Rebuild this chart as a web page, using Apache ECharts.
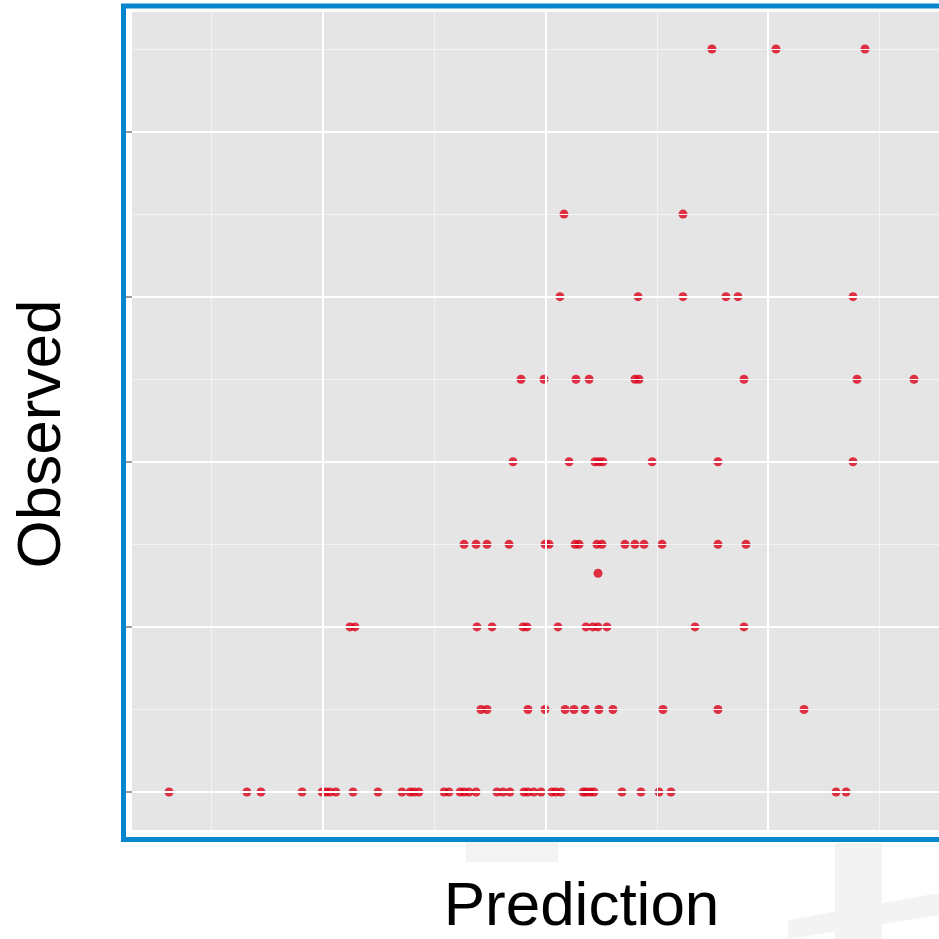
<!DOCTYPE html>
<html>
<head>
<meta charset="utf-8">
<style>html,body{margin:0;padding:0;background:#fff;}#c{width:939px;height:939px;}</style>
<script src="https://cdn.jsdelivr.net/npm/echarts@6/dist/echarts.min.js"></script>
</head>
<body>
<div id="c"></div>
<script>
// Observed levels and the Prediction values of the points on each level
const obs0 = [0.308,0.658,0.721,0.906,0.996,1.013,1.031,1.058,1.135,1.247,1.355,1.391,1.409,1.431,1.544,1.566,1.616,1.634,1.656,1.688,1.782,1.809,1.840,1.903,1.921,1.948,1.980,2.029,2.047,2.070,2.169,2.182,2.200,2.218,2.344,2.429,2.510,2.564,3.306,3.351];
const obs1 = [1.710,1.737,1.921,1.998,2.088,2.128,2.178,2.240,2.303,2.528,2.775,3.162];
const obs2 = [1.121,1.144,1.692,1.760,1.899,1.917,2.056,2.182,2.213,2.236,2.276,2.672,2.892];
const obs265 = [2.236];
const obs3 = [1.634,1.688,1.737,1.836,1.998,2.016,2.133,2.151,2.231,2.254,2.357,2.402,2.443,2.524,2.775,2.901];
const obs4 = [1.854,2.106,2.222,2.240,2.258,2.479,2.775,3.382];
const obs5 = [1.890,1.993,2.137,2.196,2.402,2.420,2.892,3.400,3.656];
const obs6 = [2.065,2.416,2.618,2.811,2.865,3.382];
const obs7 = [2.083,2.618];
const obs9 = [2.748,3.036,3.436];
const levels = [[0,obs0],[1,obs1],[2,obs2],[2.65,obs265],[3,obs3],[4,obs4],[5,obs5],[6,obs6],[7,obs7],[9,obs9]];

const xMajor = [1,2,3];
const xMinor = [0.5,1.5,2.5,3.5];
const yMajor = [0,2,4,6,8];
const yMinor = [1,3,5,7,9];

const points = [];
levels.forEach(([y, xs]) => xs.forEach(x => points.push([x, y])));

const gridLines = [];
xMinor.forEach(v => gridLines.push({xAxis: v, lineStyle: {color: '#F3F3F3', width: 1, type: 'solid'}}));
yMinor.forEach(v => gridLines.push({yAxis: v, lineStyle: {color: '#F3F3F3', width: 1.2, type: 'solid'}}));
xMajor.forEach(v => gridLines.push({xAxis: v, lineStyle: {color: '#FFFFFF', width: 2, type: 'solid'}}));
yMajor.forEach(v => gridLines.push({yAxis: v, lineStyle: {color: '#FFFFFF', width: 2, type: 'solid'}}));

const chart = echarts.init(document.getElementById('c'), null, {renderer: 'canvas'});
chart.setOption({
  animation: false,
  backgroundColor: '#FFFFFF',
  graphic: [
    {type: 'rect', z: -10, silent: true, shape: {x: 466, y: 842, width: 92, height: 20}, style: {fill: '#F4F4F4'}},
    {type: 'rect', z: -10, silent: true, shape: {x: 835, y: 843, width: 47, height: 96}, style: {fill: '#F3F3F3'}},
    {type: 'polygon', z: -10, silent: true, shape: {points: [[788,920],[939,893],[939,915],[788,939]]}, style: {fill: '#F3F3F3'}},
    {type: 'rect', z: -5, silent: true, shape: {x: 123.5, y: 6, width: 900, height: 833.5}, style: {fill: 'none', stroke: '#0686CE', lineWidth: 5}}
  ],
  grid: {
    left: 132, top: 12, right: 0, bottom: 109,
    outerBoundsMode: 'none', containLabel: false,
    show: true, backgroundColor: '#E5E5E5', borderWidth: 0
  },
  xAxis: {
    type: 'value', min: 0.1416, max: 3.7685,
    name: 'Prediction', nameLocation: 'middle', nameGap: 47,
    nameTextStyle: {fontFamily: 'Liberation Sans', fontSize: 62, color: '#000', padding: [0, 0, 0, 92]},
    axisLine: {show: false},
    axisTick: {show: true, customValues: xMajor, length: 6, lineStyle: {color: '#7A7A7A', width: 1.5}},
    axisLabel: {show: false},
    splitLine: {show: false}
  },
  yAxis: {
    type: 'value', min: -0.46, max: 9.448,
    name: 'Observed', nameLocation: 'middle', nameGap: 58, nameRotate: 90,
    nameTextStyle: {fontFamily: 'Liberation Sans', fontSize: 62, color: '#000', padding: [0, 26, 0, 0]},
    axisLine: {show: false},
    axisTick: {show: true, customValues: yMajor, length: 6, lineStyle: {color: '#7A7A7A', width: 1.5}},
    axisLabel: {show: false},
    splitLine: {show: false}
  },
  series: [
    {
      type: 'scatter', data: [], z: 1, silent: true,
      markLine: {silent: true, symbol: ['none', 'none'], label: {show: false}, animation: false, data: gridLines}
    },
    {
      type: 'scatter', data: points, z: 3, symbol: 'circle', symbolSize: 9,
      itemStyle: {color: '#DC0018'}
    }
  ]
});
</script>
</body>
</html>
